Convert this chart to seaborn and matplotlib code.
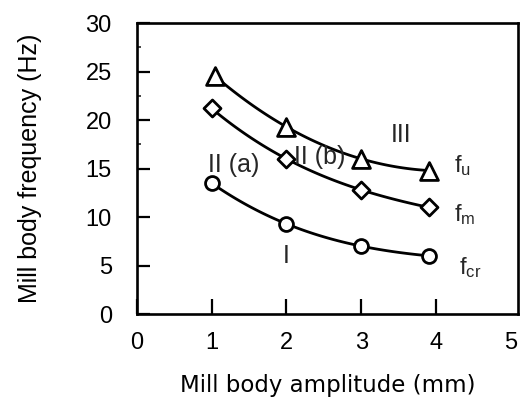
import numpy as np
import pandas as pd
import matplotlib
matplotlib.use("Agg")
import matplotlib.pyplot as plt
import seaborn as sns

# ---- data ----
amp_u = [1.05, 2.0, 3.0, 3.9]
freq_u = [24.5, 19.3, 16.0, 14.8]
amp_m = [1.0, 2.0, 3.0, 3.9]
freq_m = [21.2, 16.0, 12.8, 11.0]
amp_cr = [1.0, 2.0, 3.0, 3.9]
freq_cr = [13.5, 9.3, 7.0, 6.0]

series = ["fu", "fm", "fcr"]
x_ticks = [0, 1, 2, 3, 4, 5]
y_ticks = [0, 5, 10, 15, 20, 25, 30]

df = pd.DataFrame({
    "amp": amp_u + amp_m + amp_cr,
    "freq": freq_u + freq_m + freq_cr,
    "series": ["fu"] * len(amp_u) + ["fm"] * len(amp_m) + ["fcr"] * len(amp_cr),
})

sns.set_theme(style="white")
plt.rcParams["font.family"] = ["Liberation Sans", "DejaVu Sans"]
plt.rcParams["mathtext.fontset"] = "custom"
plt.rcParams["mathtext.rm"] = "Liberation Sans"
plt.rcParams["mathtext.it"] = "Liberation Sans"

fig = plt.figure(figsize=(5.22, 3.99), dpi=100)
ax = fig.add_axes([0.262, 0.213, 0.730, 0.729])

# smooth curves through the points (cubic fit through 4 points)
for s in series:
    sub = df[df["series"] == s]
    sns.regplot(data=sub, x="amp", y="freq", order=3, ci=None, scatter=False,
                truncate=True, ax=ax, line_kws={"color": "black", "lw": 2.0})

markers = {"fu": "^", "fm": "D", "fcr": "o"}
sizes = {"fu": 165, "fm": 75, "fcr": 100}
for s in series:
    sub = df[df["series"] == s]
    sns.scatterplot(data=sub, x="amp", y="freq", marker=markers[s], s=sizes[s],
                    facecolor="white", edgecolor="black", linewidth=2.0,
                    ax=ax, zorder=5, legend=False)

ax.set_xlim(0, 5.09)
ax.set_ylim(0, 30)
ax.set_xticks(x_ticks)
ax.set_yticks(y_ticks)
ax.set_xticklabels([str(t) for t in x_ticks])
ax.set_yticklabels([str(t) for t in y_ticks])
ax.set_yticks([17.5, 22.5, 27.5], minor=True)

ax.tick_params(axis="x", direction="in", length=11, width=1.6, pad=13,
               labelsize=17, top=False, bottom=True, colors="black")
ax.tick_params(axis="y", direction="in", length=9, width=1.6, pad=18,
               labelsize=17, left=True, right=False, colors="black")
ax.tick_params(axis="y", which="minor", direction="in", length=3, width=1.2, left=True)
ax.xaxis.get_major_ticks()[-1].tick1line.set_visible(False)

for sp in ax.spines.values():
    sp.set_visible(True)
    sp.set_color("black")
    sp.set_linewidth(1.9)

ax.set_xlabel("Mill body amplitude (mm)", fontsize=16.5, family="DejaVu Sans",
              labelpad=14, color="black")
ax.set_ylabel("Mill body frequency (Hz)", fontsize=18, labelpad=31, color="black")

# region annotations
ax.text(1.3, 15.4, "II (a)", fontsize=18, ha="center", va="center")
ax.text(2.45, 16.2, "II (b)", fontsize=18, ha="center", va="center")
ax.text(3.53, 18.5, "III", fontsize=18, ha="center", va="center")
ax.text(2.0, 6.0, "I", fontsize=18, ha="center", va="center")

# curve labels
ax.text(4.24, 14.6, r"f$_\mathregular{u}$", fontsize=17, ha="left", va="baseline")
ax.text(4.24, 9.6, r"f$_\mathregular{m}$", fontsize=17, ha="left", va="baseline")
ax.text(4.30, 4.1, r"f$_\mathregular{cr}$", fontsize=17, ha="left", va="baseline")

fig.savefig("out.png", dpi=100, facecolor="white")
